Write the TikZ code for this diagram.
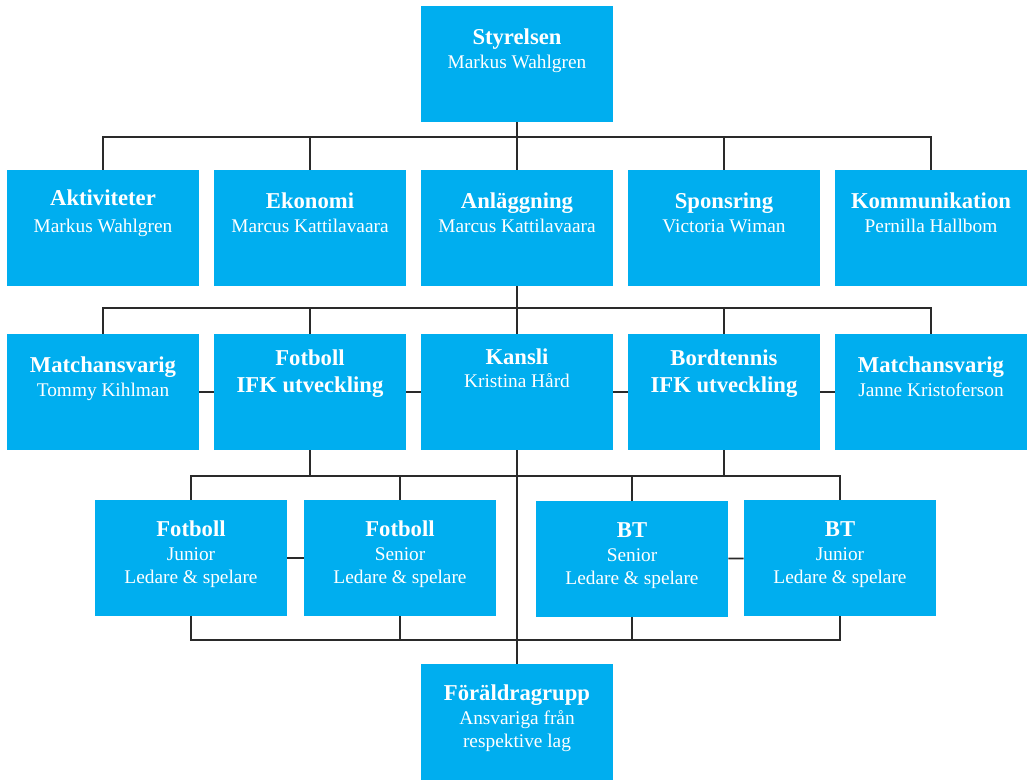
\documentclass[tikz,border=0pt]{standalone}
\usepackage{fontspec}
\setmainfont{Liberation Serif}
\usetikzlibrary{positioning}
\definecolor{boxblue}{HTML}{00AEEF}
\definecolor{linkgray}{HTML}{2A2A2A}
\newcommand{\ttl}[1]{{\fontsize{17}{20}\selectfont\bfseries #1}}

\begin{document}
\begin{tikzpicture}[x=0.75pt,y=-0.75pt,node distance=123pt and 155.25pt,on grid,
	unit/.style={fill=boxblue,text=white,minimum width=144pt,minimum height=87pt,inner sep=0pt,
		align=center,text height=46.5pt,text depth=40.5pt,font=\fontsize{14.5}{17}\selectfont},
	high/.style={text height=43.5pt,text depth=43.5pt},
	three/.style={text height=62.5pt,text depth=24.5pt},
	link/.style={draw=linkgray,line width=1.4pt}]
	\useasboundingbox (0,0) rectangle (1032,779);
	% board and committees
	\node[unit] (sty) at (517,64) {\ttl{Styrelsen}\\[1pt]Markus Wahlgren};
	\node[unit] (anl) [below=of sty] {\ttl{Anläggning}\\[1pt]Marcus Kattilavaara};
	\node[unit] (eko) [left=of anl] {\ttl{Ekonomi}\\[1pt]Marcus Kattilavaara};
	\node[unit] (akt) [left=of eko] {\ttl{Aktiviteter}\\[3pt]Markus Wahlgren};
	\node[unit] (spo) [right=of anl] {\ttl{Sponsring}\\[1pt]Victoria Wiman};
	\node[unit] (kom) [right=of spo] {\ttl{Kommunikation}\\[1pt]Pernilla Hallbom};
	% sections
	\node[unit,text height=40pt,text depth=47pt] (kan) [below=of anl] {\ttl{Kansli}\\Kristina Hård};
	\node[unit,high] (fot) [left=of kan] {\ttl{Fotboll}\\[3pt]\ttl{IFK utveckling}};
	\node[unit] (mt1) [left=of fot] {\ttl{Matchansvarig}\\[1pt]Tommy Kihlman};
	\node[unit,high] (bor) [right=of kan] {\ttl{Bordtennis}\\[3pt]\ttl{IFK utveckling}};
	\node[unit] (mt2) [right=of bor] {\ttl{Matchansvarig}\\[1pt]Janne Kristoferson};
	% teams
	\node[unit,three] (fj) at (191,558) {\ttl{Fotboll}\\[1pt]Junior\\Ledare \& spelare};
	\node[unit,three] (fs) at (400,558) {\ttl{Fotboll}\\[1pt]Senior\\Ledare \& spelare};
	\node[unit,three] (bs) at (632,559) {\ttl{BT}\\[1pt]Senior\\Ledare \& spelare};
	\node[unit,three] (bj) at (840,558) {\ttl{BT}\\[1pt]Junior\\Ledare \& spelare};
	\node[unit,three] (for) [below=247.5pt of kan] {\ttl{Föräldragrupp}\\[1pt]Ansvariga från\\respektive lag};

	\coordinate (bus1) at (517,137);
	\coordinate (bus2) at (517,308);
	\coordinate (bus3) at (517,476);
	\coordinate (bus4) at (517,640);

	\draw[link] (sty) -- (anl);
	\draw[link] (akt.north) |- (bus1) -| (kom.north);
	\draw[link] (eko.north) -- (eko.north |- bus1);
	\draw[link] (spo.north) -- (spo.north |- bus1);

	\draw[link] (anl) -- (kan);
	\draw[link] (mt1.north) |- (bus2) -| (mt2.north);
	\draw[link] (fot.north) -- (fot.north |- bus2);
	\draw[link] (bor.north) -- (bor.north |- bus2);
	\path[link] (mt1) edge (fot) (fot) edge (kan) (kan) edge (bor) (bor) edge (mt2);

	\draw[link] (kan) -- (for);
	\draw[link] (fot.south) -- (fot.south |- bus3);
	\draw[link] (bor.south) -- (bor.south |- bus3);
	\draw[link] (fj.north) |- (bus3) -| (bj.north);
	\draw[link] (fs.north) -- (fs.north |- bus3);
	\draw[link] (bs.north) -- (bs.north |- bus3);
	\draw[link] (fj.south) |- (bus4) -| (bj.south);
	\draw[link] (fs.south) -- (fs.south |- bus4);
	\draw[link] (bs.south) -- (bs.south |- bus4);
	\path[link] (fj) edge (fs) (bs) edge (bj);
\end{tikzpicture}
\end{document}
